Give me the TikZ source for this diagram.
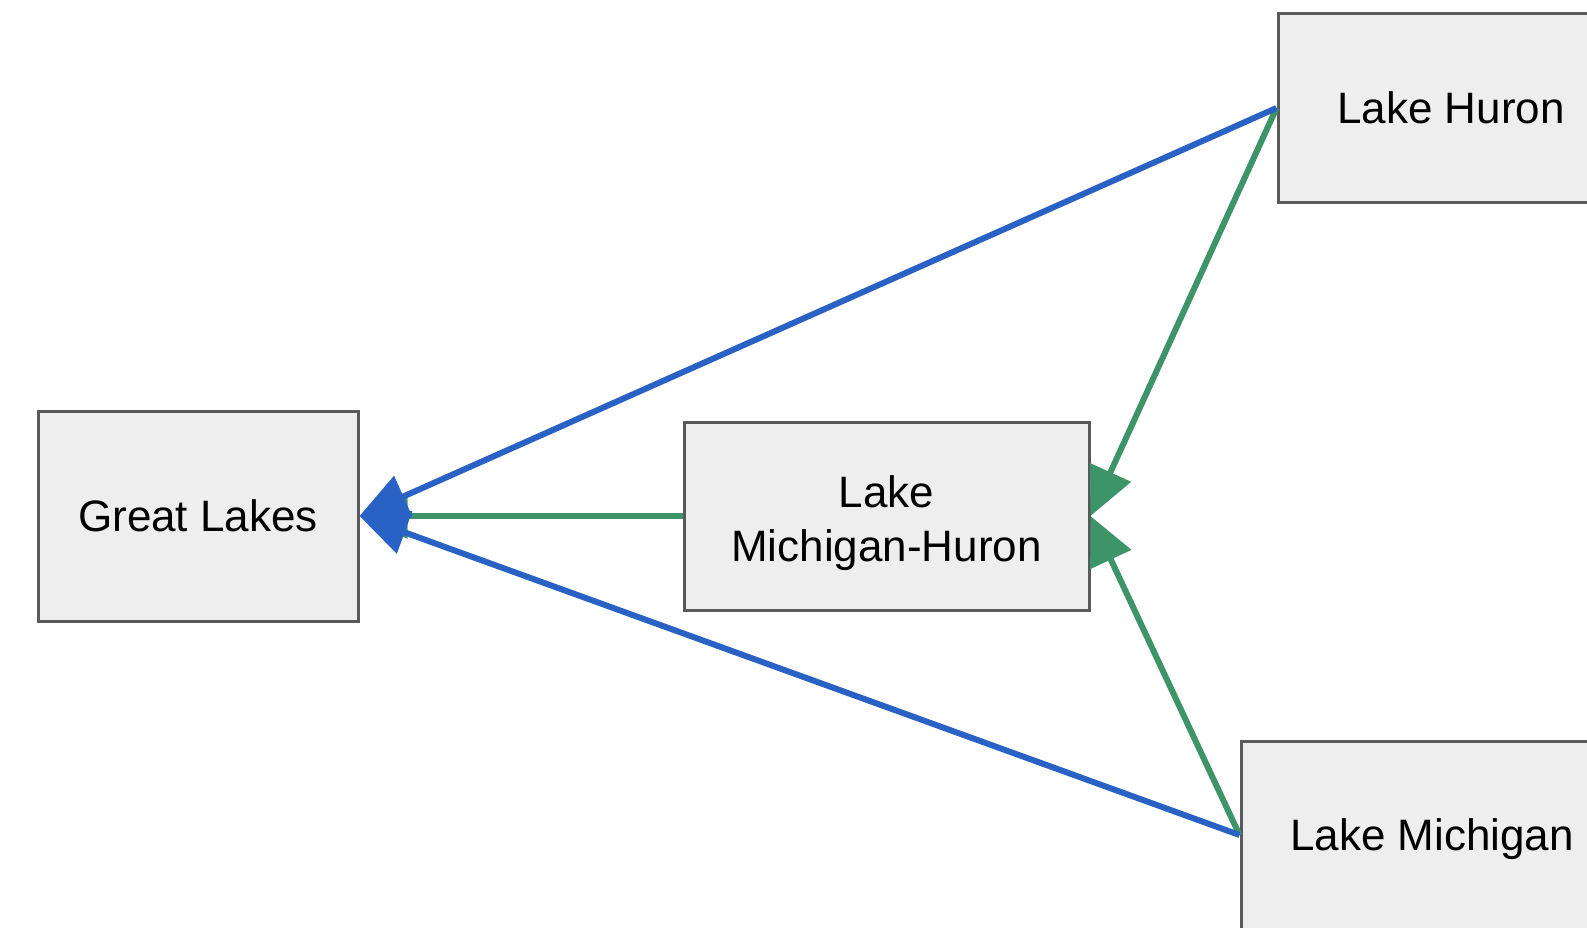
\documentclass[tikz,border=0pt]{standalone}
\usepackage{fontspec}
\setmainfont{Liberation Sans}
\usetikzlibrary{arrows.meta}

\definecolor{lakeblue}{RGB}{41,98,196}
\definecolor{lakegreen}{RGB}{61,148,104}
\definecolor{boxgray}{RGB}{238,238,238}
\definecolor{edgegray}{RGB}{89,89,89}

\tikzset{
	lakebox/.style={draw=edgegray, fill=boxgray, line width=3pt, inner sep=0pt, align=center, font=\fontsize{44}{54}\selectfont},
	bluearrow/.style={draw=lakeblue, line width=6pt, -{Triangle[length=48pt, width=44pt]}},
	greenarrow/.style={draw=lakegreen, line width=6pt, -{Triangle[length=48pt, width=44pt]}}
}

\begin{document}
\begin{tikzpicture}[x=1pt,y=1pt,yscale=-1,xscale=1]
	\useasboundingbox (0,0) rectangle (1587,927);
	\clip (0,0) rectangle (1587,927);
	\node (great) [lakebox, minimum width=320pt, minimum height=210pt] at (198,516) {Great Lakes};
	\node (mihu) [lakebox, minimum width=405pt, minimum height=188pt] at (886.5,516) {\rule{0pt}{46pt}Lake\\Michigan-Huron};
	\node (huron) [lakebox, minimum width=346pt, minimum height=189pt] at (1451,108) {Lake Huron};
	\node (michigan) [lakebox, minimum width=382pt, minimum height=188pt] at (1432,835) {\rule{0pt}{41pt}Lake Michigan};
	\draw [greenarrow] (mihu.west) -- (great.east);
	\draw [greenarrow] (huron.west) -- (mihu.east);
	\draw [greenarrow] (michigan.west) -- (mihu.east);
	\draw [bluearrow] (huron.west) -- (great.east);
	\draw [bluearrow] (michigan.west) -- (great.east);
\end{tikzpicture}
\end{document}
